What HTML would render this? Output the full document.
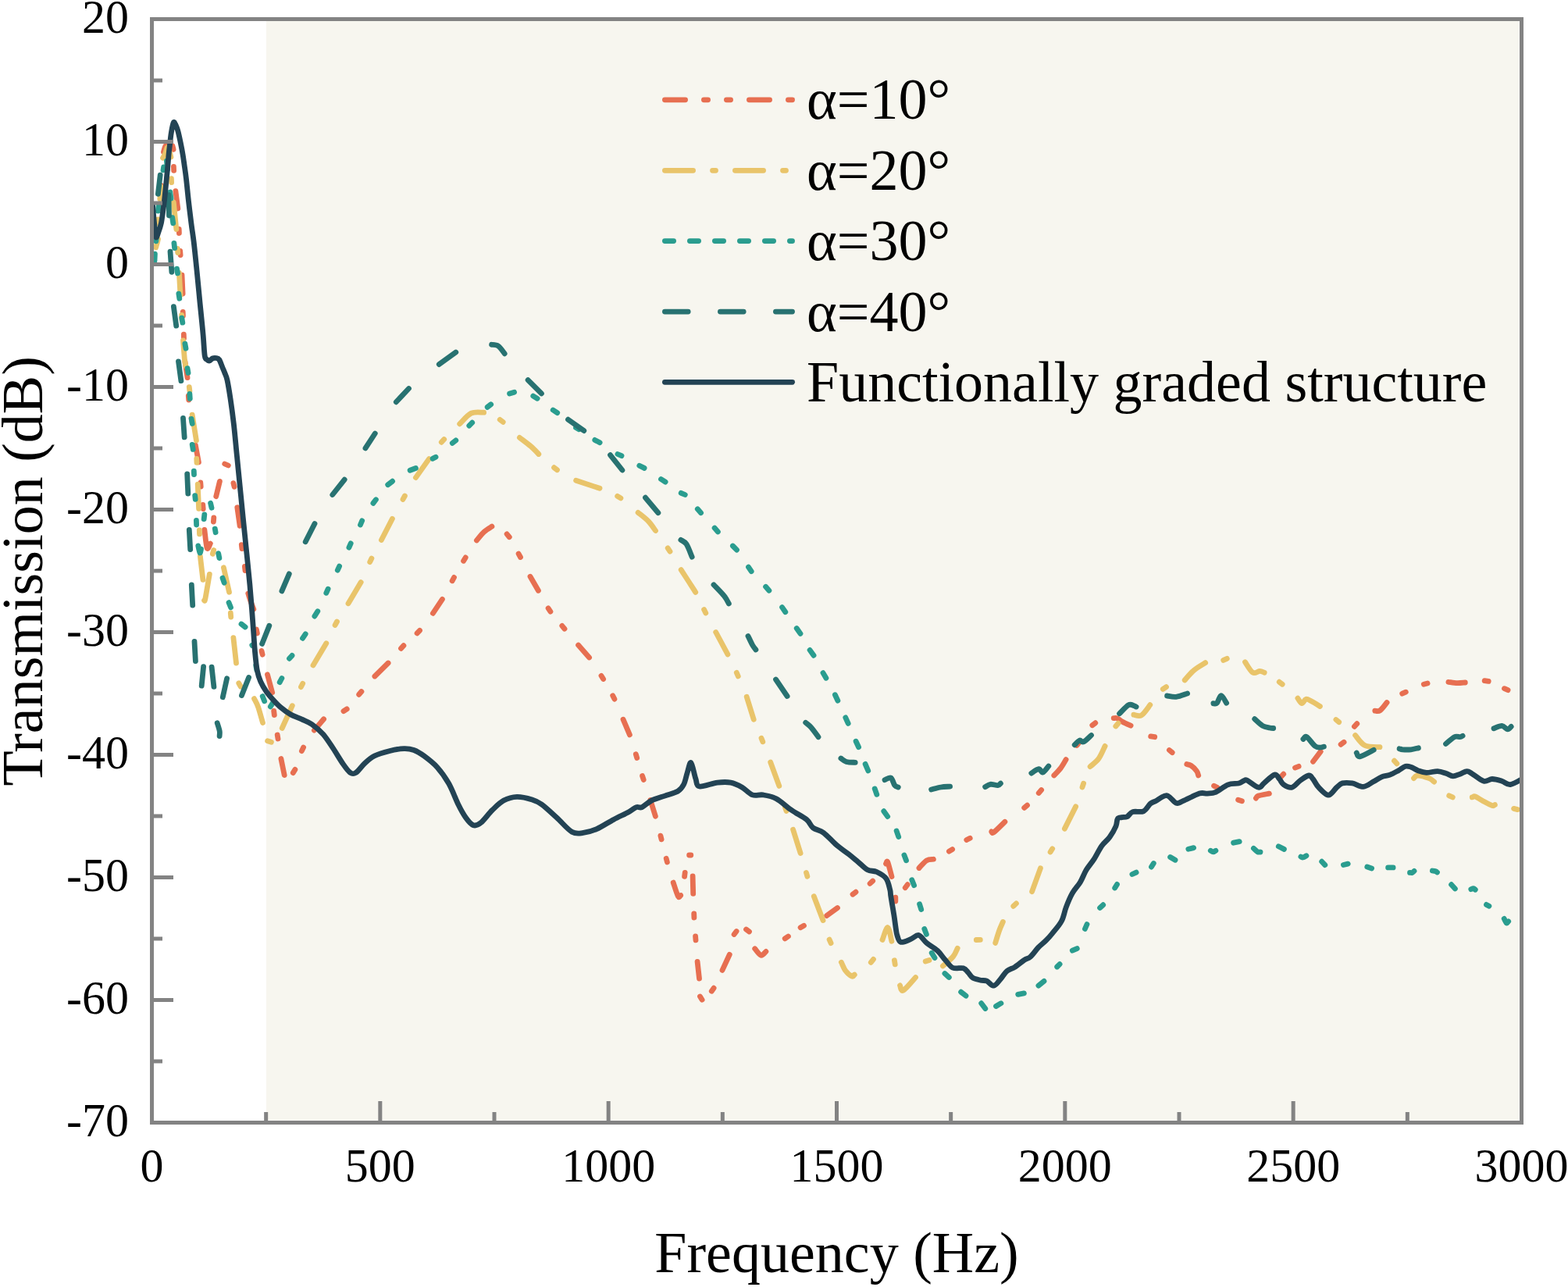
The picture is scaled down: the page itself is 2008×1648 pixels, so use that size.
<!DOCTYPE html>
<html><head><meta charset="utf-8"><title>Transmission vs Frequency</title>
<style>html,body{margin:0;padding:0;background:#fff;width:2008px;height:1648px;overflow:hidden}svg{display:block}</style>
</head><body>
<svg width="2008" height="1648" viewBox="0 0 2008 1648" font-family="'Liberation Serif','Times New Roman',serif" fill="#000">
<defs><clipPath id="clip"><rect x="194.5" y="24.5" width="1754.0" height="1413.0"/></clipPath></defs>
<rect x="0" y="0" width="2008" height="1648" fill="#fff"/>
<rect x="341" y="27" width="1604.5" height="1407.5" fill="#F7F6EF"/>
<g clip-path="url(#clip)"><path d="M203.3,267.5 L203.7,262.5M205.8,242.5 L206.2,237.5M209.5,194.6 C209.7,193.7 210.5,190.5 211.0,189.0 C211.5,187.5 212.4,186.2 212.7,185.7M220.9,186.6 L222.1,191.4M222.4,213.3 L222.6,218.3M224.9,244.7 L227.8,267.0M229.2,293.5 L229.4,298.5M230.7,321.5 L231.1,326.5M233.0,352.2 L234.1,376.0M234.2,399.4 L234.4,404.4M235.3,428.2 L235.5,433.2M236.9,462.8 L240.0,483.6M241.3,507.0 L241.7,512.0M245.1,535.5 L245.9,540.5M250.4,570.3 L254.4,591.9M256.8,618.0 L257.2,623.0M259.8,646.5 L260.2,651.5M261.9,678.4 C262.5,682.3 263.9,699.0 265.1,701.9 C266.3,704.8 268.6,697.0 269.3,696.0M273.4,668.0 L273.8,663.0M276.7,635.7 L281.4,616.4M287.7,594.0 L292.3,596.0M298.9,618.6 L300.1,623.4M303.8,649.8 L307.1,673.3M309.3,697.7 L309.9,702.7M313.4,725.5 L314.0,730.5M317.8,759.9 C318.3,761.6 319.8,766.6 321.0,770.0 C322.2,773.4 324.1,778.4 324.8,780.1M328.4,806.0 L329.4,811.0M335.0,833.4 L336.2,838.2M342.5,863.8 L348.7,886.8M350.7,910.5 L351.3,915.5M355.2,941.0 L356.0,946.0M359.9,971.5 L364.2,992.6M375.3,989.6 L377.9,985.4M386.4,961.6 L388.6,957.0M402.4,935.1 L414.6,920.8M440.0,910.7 L444.2,907.9M459.7,889.3 L462.9,885.5M479.9,866.0 L497.1,849.0M513.5,830.3 L516.9,826.7M534.1,810.9 L537.5,807.3M554.4,785.3 L566.4,767.4M579.1,743.8 L581.5,739.4M593.6,718.3 L596.2,713.9M610.4,691.9 C612.0,690.1 616.8,683.9 620.0,681.0 C623.2,678.1 628.2,675.3 629.9,674.2M649.1,683.9 L652.3,687.7M664.1,709.1 L666.5,713.5M679.0,738.3 L689.4,756.2M702.1,778.9 L704.9,783.1M719.8,801.4 L723.0,805.2M740.6,826.1 L754.6,841.9M770.0,865.3 L772.6,869.5M784.7,890.7 L786.9,895.1M798.0,921.2 L806.4,940.9M814.3,965.7 L815.7,970.5M822.6,993.6 L824.2,998.4M832.9,1024.5 L839.4,1045.2M845.9,1070.1 L847.1,1074.9M853.2,1099.2 L854.4,1104.0M862.2,1130.1 C863.2,1133.0 866.8,1145.0 868.4,1147.7 C870.0,1150.4 871.1,1146.6 871.7,1146.4M876.6,1122.3 L877.2,1117.3M882.6,1095.0 L884.8,1095.0M887.1,1122.0 L887.7,1144.4M888.7,1170.0 L888.9,1175.0M890.6,1198.9 L891.0,1203.9M893.1,1231.5 L895.5,1253.0M896.5,1276.0 L899.1,1280.2M911.3,1269.2 L914.1,1265.2M925.0,1242.4 L934.3,1222.3M940.1,1196.5 L943.1,1192.5M955.5,1190.0 L959.5,1193.0M966.7,1214.8 C968.0,1216.2 972.1,1222.7 974.5,1223.3 C976.9,1223.9 979.8,1219.2 980.9,1218.4M1005.2,1201.8 L1009.4,1199.0M1025.1,1187.7 L1029.5,1185.3M1058.7,1172.6 L1072.5,1162.5M1092.0,1145.2 L1096.0,1142.2M1114.1,1131.4 L1117.7,1128.0M1134.6,1106.0 C1135.0,1105.6 1135.6,1101.0 1136.8,1103.8 C1138.0,1106.6 1141.1,1119.5 1142.0,1122.6M1146.8,1149.1 L1146.8,1154.1M1159.2,1136.7 L1162.2,1132.7M1177.0,1111.5 C1178.6,1109.9 1183.5,1103.7 1186.6,1101.8 C1189.7,1099.9 1194.0,1100.6 1195.4,1100.3M1215.4,1090.2 L1219.6,1087.6M1237.8,1075.5 L1242.2,1073.3M1269.8,1064.8 C1270.3,1065.0 1269.9,1067.9 1272.7,1065.8 C1275.5,1063.7 1284.5,1054.6 1286.9,1052.3M1311.7,1034.3 L1315.5,1031.1M1330.2,1015.4 L1333.6,1011.6M1349.8,992.9 C1351.2,991.4 1355.5,987.3 1358.1,983.9 C1360.7,980.5 1363.9,974.5 1365.1,972.6M1379.1,954.5 L1382.3,950.5M1398.8,928.7 L1402.8,925.7M1426.2,919.6 C1427.0,919.6 1429.2,919.1 1431.0,919.8 C1432.8,920.5 1434.1,922.4 1437.0,924.0 C1439.9,925.6 1446.3,928.4 1448.1,929.2M1473.7,942.9 L1478.7,943.7M1497.4,960.5 L1501.2,963.7M1519.8,978.6 C1520.7,978.9 1523.3,979.0 1525.4,980.4 C1527.5,981.8 1530.8,985.2 1532.4,987.3 C1534.0,989.4 1534.3,992.1 1534.7,993.0M1554.6,1006.2 L1559.0,1008.6M1585.6,1024.2 L1590.4,1025.8M1608.4,1022.1 C1608.9,1021.6 1608.7,1020.0 1611.5,1019.0 C1614.3,1018.0 1623.1,1016.6 1625.4,1016.1M1640.3,994.8 L1643.7,991.2M1658.5,983.1 L1663.1,981.3M1681.5,975.2 L1691.2,962.4M1717.1,953.3 L1721.1,950.3M1734.4,930.3 L1737.8,926.7M1760.8,910.2 C1761.9,910.1 1764.9,911.4 1767.5,909.6 C1770.1,907.8 1774.7,901.2 1776.1,899.5M1795.7,888.2 L1800.3,886.2M1823.3,876.2 L1828.1,875.0M1854.9,873.3 C1856.7,873.5 1862.5,874.6 1866.1,874.7 C1869.7,874.8 1874.6,874.1 1876.3,874.0M1901.2,871.6 L1906.2,872.4M1926.5,881.7 L1931.1,883.7" fill="none" stroke="#E76F51" stroke-width="6.8" stroke-linecap="round" stroke-linejoin="round"/><path d="M199.7,316.9 C199.9,315.9 200.8,312.8 201.3,311.0 C201.8,309.2 202.3,306.9 202.5,306.1M201.8,286.0 L202.4,281.0M204.8,254.8 L206.0,239.2M208.6,202.2 C209.1,201.3 210.4,199.3 211.5,197.0 C212.6,194.7 213.8,187.8 215.0,188.5 C216.2,189.2 218.2,199.0 218.9,201.1M219.4,228.6 L219.6,233.6M222.3,259.2 L225.8,293.5M227.3,318.5 L227.7,323.5M229.4,349.4 L231.0,378.0M232.6,403.5 L232.8,408.5M234.5,436.0 C234.9,440.0 235.8,454.5 236.4,460.0 C237.0,465.5 237.7,467.7 238.0,469.2M242.3,495.6 L242.9,500.6M246.2,531.2 L251.4,564.0M251.8,587.4 L252.0,592.4M253.2,620.2 L254.6,651.4M255.3,678.8 L255.5,683.8M256.4,712.4 L259.9,742.4M261.6,768.8 C261.9,768.3 261.9,771.6 263.0,766.0 C264.1,760.4 267.4,740.5 268.3,735.4M272.3,709.2 L273.7,704.4M286.4,726.8 L293.5,758.3M295.3,785.0 L295.7,790.0M298.9,816.6 L302.5,849.0M305.8,874.8 L308.2,879.2M325.5,894.6 C326.3,896.4 328.9,900.4 330.7,905.6 C332.5,910.8 335.5,922.3 336.5,925.6M342.6,948.8 L347.4,950.2M361.2,932.5 L374.3,903.7M385.5,879.6 L387.7,875.2M401.0,851.9 L417.8,823.7M429.1,800.4 L431.5,796.0M446.0,772.8 L462.2,745.6M473.7,719.6 L475.9,715.0M488.4,691.5 L502.4,664.3M516.0,639.4 L518.4,635.0M532.4,611.6 L549.4,587.6M565.3,566.3 L568.7,562.5M588.7,542.8 C591.2,540.6 598.3,531.6 603.4,529.2 C608.5,526.8 616.9,528.4 619.6,528.2M640.2,537.4 L644.2,540.4M665.4,560.3 C667.8,562.2 675.9,568.2 680.0,571.7 C684.1,575.2 688.2,579.9 689.8,581.5M709.5,598.7 L713.5,601.7M737.6,615.2 L768.0,625.3M790.7,635.3 L794.9,637.9M817.1,656.3 C819.4,658.2 826.8,663.7 830.5,667.6 C834.2,671.5 838.0,677.6 839.5,679.5M855.2,701.9 L858.0,706.1M872.2,729.7 C873.8,732.1 878.4,739.2 881.5,744.0 C884.6,748.8 889.1,755.9 890.7,758.3M901.6,780.6 L903.8,785.0M916.7,809.5 L931.9,837.9M943.3,861.4 L945.3,866.0M956.2,892.3 L965.2,921.3M975.0,945.2 L976.8,949.8M986.7,976.0 L997.8,1006.4M1005.4,1033.6 L1007.0,1038.4M1015.6,1062.2 L1025.1,1092.6M1032.5,1117.4 L1033.9,1122.2M1042.3,1147.7 L1054.0,1178.5M1062.1,1203.1 L1064.1,1207.7M1077.4,1232.2 C1078.4,1234.0 1080.7,1240.3 1083.0,1243.3 C1085.3,1246.3 1089.1,1249.4 1091.0,1250.2 C1092.9,1251.0 1093.8,1248.4 1094.3,1248.0M1115.3,1232.3 L1118.5,1228.3M1130.0,1203.5 C1131.2,1200.8 1134.8,1187.2 1136.8,1187.5 C1138.8,1187.8 1141.1,1202.4 1141.9,1205.3M1145.4,1229.8 L1146.2,1234.8M1152.6,1261.9 C1153.2,1262.9 1153.4,1269.9 1156.7,1268.2 C1160.0,1266.5 1169.9,1254.3 1172.5,1251.5M1185.2,1231.1 L1190.0,1229.5M1207.4,1236.9 C1209.6,1234.9 1217.4,1228.8 1220.5,1225.0 C1223.6,1221.2 1225.3,1216.0 1226.2,1214.2M1250.3,1203.5 L1255.3,1203.3M1274.7,1207.4 C1275.5,1204.7 1278.1,1196.0 1279.7,1191.5 C1281.3,1187.0 1283.6,1182.3 1284.4,1180.4M1297.8,1160.3 L1301.4,1156.9M1321.6,1141.7 L1332.4,1111.8M1345.1,1091.0 L1347.7,1086.8M1363.4,1061.1 L1377.6,1032.9M1386.0,1008.0 L1387.6,1003.2M1396.1,981.6 C1397.9,979.9 1403.7,976.0 1406.9,971.6 C1410.1,967.2 1413.7,958.1 1415.1,955.4M1428.8,930.0 L1432.0,926.2M1451.9,915.2 C1453.5,915.3 1458.3,918.0 1461.8,915.9 C1465.3,913.8 1471.0,904.9 1472.8,902.7M1489.3,882.4 L1493.5,879.6M1517.2,870.9 C1519.1,868.8 1524.5,862.0 1528.9,858.3 C1533.3,854.6 1541.2,850.3 1543.6,848.7M1566.7,845.4 L1571.3,843.4M1594.5,847.8 C1596.1,850.0 1601.2,859.3 1604.3,861.2 C1607.4,863.1 1610.8,859.4 1613.3,859.4 C1615.8,859.4 1618.2,860.9 1619.2,861.2M1638.2,873.2 L1642.2,876.2M1661.9,894.2 C1662.8,895.3 1665.3,900.5 1667.1,900.7 C1668.9,900.9 1670.4,895.8 1672.5,895.3 C1674.6,894.8 1676.6,896.5 1679.6,898.0 C1682.6,899.5 1688.6,903.4 1690.4,904.5M1710.9,921.5 L1714.7,924.7M1735.6,941.5 C1737.6,943.7 1742.6,952.0 1747.8,954.5 C1753.0,957.0 1763.8,956.4 1767.0,956.7M1785.5,974.2 L1788.9,977.8M1810.5,996.6 C1811.4,996.0 1812.6,993.0 1815.9,993.0 C1819.2,993.0 1826.8,995.3 1830.2,996.6 C1833.6,997.9 1835.5,1000.3 1836.6,1001.1M1855.7,1018.9 L1860.3,1020.9M1885.3,1020.9 C1886.0,1020.8 1887.2,1019.2 1889.4,1019.9 C1891.6,1020.6 1894.8,1023.4 1898.4,1025.3 C1902.0,1027.2 1908.2,1030.6 1910.9,1031.5 C1913.6,1032.4 1913.8,1030.7 1914.4,1030.5M1938.6,1035.4 L1943.4,1036.6" fill="none" stroke="#E9C46A" stroke-width="6.8" stroke-linecap="round" stroke-linejoin="round"/><path d="M198.0,333.8 L198.4,325.2M199.8,308.8 L200.7,301.2M202.4,270.1 L203.1,264.2M209.0,217.8 L209.6,214.0M213.4,206.2 L214.6,216.8M217.8,246.0 L219.0,254.1M220.7,278.7 L221.7,285.8M222.9,311.3 L223.6,317.7M226.5,344.2 L227.5,349.8M228.9,376.2 L229.8,382.2M232.8,407.1 L233.8,413.1M236.9,440.1 L238.0,446.1M240.0,471.7 L241.0,477.4M242.9,504.4 L243.3,510.4M245.1,536.4 L246.2,542.4M246.2,569.4 L247.2,575.4M248.3,603.2 L248.5,607.7M249.7,634.7 L250.2,639.3M251.4,666.3 L251.6,672.0M253.8,698.9 C254.1,700.4 255.4,707.3 256.0,708.0 C256.6,708.7 257.3,703.9 257.5,703.1M261.2,664.7 L261.8,659.0M269.6,644.3 L271.0,650.3M275.3,677.2 L276.1,681.7M279.7,708.6 L280.9,714.6M285.0,740.1 L287.1,746.2M293.0,771.6 L295.5,777.8M309.0,799.0 L314.1,803.0M322.8,826.1 L323.0,826.6M327.7,852.1 L328.8,857.9M336.2,891.6 L338.6,897.8M346.4,904.8 L350.3,898.6M358.2,873.6 L360.9,868.5M370.5,843.3 L374.0,839.4M387.5,817.3 L391.2,811.8M402.9,789.1 L406.8,782.7M417.8,759.3 L420.1,754.2M432.3,730.2 L434.6,725.1M446.9,701.1 L449.2,695.9M461.5,672.0 L463.7,666.8M477.9,644.4 L481.4,639.8M496.7,620.7 L502.6,616.2M525.1,602.2 L532.4,599.5M554.1,587.3 L558.0,585.2M579.3,567.4 L583.8,563.9M600.8,545.1 L604.7,541.2M624.2,521.3 L628.7,517.8M652.6,504.1 L658.6,502.2M682.8,507.1 L688.1,510.3M708.2,525.0 L713.7,528.6M737.5,547.6 L741.4,549.7M761.8,563.4 L768.1,566.7M790.9,581.5 L796.0,583.7M818.8,596.2 L825.1,599.4M846.5,613.5 L852.1,617.2M872.2,631.3 L877.3,633.5M893.3,651.8 L897.6,656.7M915.1,676.0 L919.4,680.9M938.4,699.0 L943.5,704.1M958.5,726.1 L962.2,731.6M980.6,751.3 L984.9,756.2M1001.6,777.6 L1005.8,783.7M1020.2,804.5 L1025.0,811.4M1037.1,832.4 L1042.0,839.3M1054.0,861.6 L1057.9,868.3M1069.4,889.7 L1072.9,897.2M1082.8,918.8 L1086.2,926.4M1096.1,949.2 L1099.6,956.7M1108.1,978.4 L1111.8,987.0M1120.2,1009.9 L1122.8,1017.3M1131.8,1038.7 L1136.7,1045.6M1148.1,1064.0 L1150.7,1071.5M1157.9,1094.9 L1160.5,1101.8M1167.8,1126.7 L1170.6,1133.7M1177.6,1157.7 L1179.7,1164.5M1183.8,1189.5 L1186.4,1196.4M1193.2,1220.2 L1197.0,1226.5M1209.9,1246.5 L1215.3,1251.5M1230.6,1270.2 L1237.0,1275.1M1256.7,1284.7 L1261.8,1291.5M1275.5,1288.5 L1281.9,1284.7M1303.7,1273.4 L1311.4,1271.9M1329.9,1262.1 L1337.0,1256.3M1353.7,1238.0 L1357.1,1234.6M1373.3,1217.2 L1379.3,1214.6M1389.4,1189.5 L1392.0,1183.5M1408.6,1162.5 L1412.7,1158.7M1427.7,1137.0 L1430.5,1132.4M1449.9,1119.5 L1455.1,1117.1M1474.5,1110.1 L1477.3,1105.5M1498.6,1097.5 L1505.0,1101.2M1521.8,1087.2 L1528.6,1085.6M1550.3,1089.2 C1550.8,1089.5 1552.5,1090.9 1553.6,1090.9 C1554.7,1090.9 1556.3,1089.5 1556.9,1089.2M1579.6,1079.2 L1587.2,1077.6M1605.4,1086.3 C1606.2,1087.0 1609.0,1089.9 1610.4,1090.7 C1611.8,1091.5 1613.4,1090.9 1614.0,1091.0M1637.3,1083.8 L1644.4,1087.4M1665.9,1097.0 C1666.3,1097.2 1667.2,1098.2 1668.4,1098.0 C1669.6,1097.8 1672.2,1096.2 1672.9,1095.8M1692.7,1103.2 L1696.8,1107.6M1720.4,1107.5 L1726.2,1106.1M1750.8,1110.0 L1756.6,1111.9M1777.6,1110.9 L1784.1,1110.9M1805.5,1117.4 C1806.0,1117.4 1807.6,1117.7 1808.5,1117.4 C1809.4,1117.1 1810.6,1115.7 1811.0,1115.4M1834.4,1115.0 C1835.0,1115.1 1837.0,1115.2 1838.0,1115.5 C1839.0,1115.8 1840.1,1116.8 1840.5,1117.0M1858.6,1132.7 L1863.4,1138.0M1883.8,1138.7 C1884.3,1138.5 1885.9,1137.6 1886.8,1137.7 C1887.7,1137.8 1888.9,1138.9 1889.3,1139.2M1903.5,1158.4 L1906.9,1160.2M1926.2,1176.4 C1926.7,1177.3 1928.3,1181.3 1929.2,1181.9 C1930.1,1182.5 1931.3,1180.2 1931.7,1179.9" fill="none" stroke="#2A9D8F" stroke-width="6.8" stroke-linecap="round" stroke-linejoin="round"/><path d="M202.4,248.3 L205.2,224.2M215.9,249.6 L216.5,276.0M218.0,322.2 L219.9,348.3M222.4,392.7 L225.7,417.2M228.5,462.8 L231.9,487.7M234.5,535.4 L236.2,559.9M239.7,606.8 L240.8,632.0M242.3,678.4 L243.7,703.6M245.3,748.8 L246.7,775.1M249.0,821.5 L250.4,846.6M258.2,878.2 L260.6,853.6M271.1,854.2 L273.9,879.4M278.2,925.7 C278.7,927.4 280.7,933.2 281.2,936.0 C281.7,938.8 281.1,941.4 281.1,942.5M285.3,892.8 L290.6,868.7M309.5,890.5 L318.6,867.4M335.6,824.4 L344.8,801.2M360.9,756.9 L370.3,734.8M391.2,693.8 L403.0,670.5M425.8,633.5 L441.2,614.2M468.0,573.9 L480.3,555.0M507.3,514.8 L523.5,497.5M562.3,466.6 L583.8,451.0M629.6,441.3 C631.0,441.5 635.2,441.1 638.0,443.0 C640.8,444.9 644.9,451.1 646.2,452.8M676.1,486.6 L693.4,503.9M727.5,537.2 L747.8,551.6M781.5,582.7 L796.9,602.0M826.5,637.2 L842.9,656.7M871.9,691.3 C873.0,692.2 876.6,693.1 879.0,696.7 C881.4,700.3 885.0,710.4 886.2,713.2M914.0,748.8 C916.3,751.3 924.4,759.4 927.6,763.4 C930.8,767.4 932.3,771.3 933.3,772.9M958.0,814.5 C959.0,816.4 962.0,823.2 963.7,826.1 C965.4,829.0 967.2,831.0 967.9,832.0M993.5,870.0 L1008.1,891.5M1031.7,925.3 C1032.9,926.4 1036.3,928.6 1039.0,931.7 C1041.7,934.8 1046.5,941.7 1048.0,943.7M1076.9,971.0 C1078.1,971.7 1080.8,974.5 1083.9,975.4 C1087.0,976.3 1093.3,976.2 1095.2,976.3M1133.0,998.7 C1134.3,998.2 1138.8,994.8 1140.9,996.0 C1143.0,997.2 1144.2,1003.7 1145.8,1005.7 C1147.4,1007.7 1149.5,1007.6 1150.2,1008.0M1192.6,1011.0 C1194.7,1010.5 1201.0,1008.7 1205.0,1008.0 C1209.0,1007.3 1214.7,1007.3 1216.6,1007.1M1261.6,1007.7 C1262.7,1007.2 1265.6,1004.7 1268.3,1004.3 C1271.0,1003.9 1275.7,1005.8 1277.9,1005.6 C1280.1,1005.4 1280.8,1003.6 1281.4,1003.1M1320.8,990.1 C1322.3,989.2 1327.8,984.9 1330.2,984.7 C1332.6,984.5 1333.3,989.7 1335.4,989.1 C1337.5,988.5 1341.6,982.3 1342.8,981.0M1376.2,953.8 C1377.2,952.9 1380.6,948.8 1382.5,948.1 C1384.4,947.4 1385.2,951.0 1387.7,949.9 C1390.2,948.8 1395.8,942.9 1397.5,941.5M1433.6,913.7 C1435.6,911.9 1442.1,904.5 1445.2,902.8 C1448.3,901.1 1450.6,903.3 1452.2,903.7 C1453.8,904.1 1454.6,904.9 1455.1,905.1M1494.6,891.0 C1496.5,891.2 1501.9,892.8 1506.2,892.3 C1510.5,891.8 1518.2,888.7 1520.6,888.0M1553.9,900.7 C1554.6,900.6 1556.8,901.9 1558.5,900.2 C1560.2,898.5 1561.8,890.6 1563.8,890.6 C1565.8,890.6 1569.5,898.6 1570.6,900.2M1606.7,920.7 C1608.4,922.1 1613.7,927.5 1616.9,929.4 C1620.1,931.3 1623.6,931.5 1625.9,932.0 C1628.2,932.5 1629.9,932.5 1630.7,932.5M1668.9,946.5 C1669.7,946.0 1670.9,942.2 1673.4,943.7 C1675.9,945.2 1681.3,953.2 1684.1,955.4 C1686.9,957.6 1688.5,957.0 1690.4,957.1 C1692.3,957.2 1694.5,956.2 1695.4,956.1M1737.3,964.0 C1738.0,964.8 1737.8,969.4 1741.5,968.8 C1745.2,968.2 1756.3,961.7 1759.2,960.3M1792.1,958.8 C1792.8,958.9 1793.7,959.6 1796.2,959.8 C1798.7,960.0 1803.5,960.1 1806.9,959.8 C1810.3,959.5 1814.8,958.1 1816.4,957.8M1851.5,952.5 C1853.3,951.0 1859.5,945.2 1862.5,943.7 C1865.5,942.2 1867.9,943.9 1869.7,943.7 C1871.5,943.5 1872.5,942.5 1873.1,942.2M1913.0,932.8 C1914.8,932.2 1920.5,929.2 1923.4,929.4 C1926.3,929.6 1928.6,933.6 1930.6,933.8 C1932.6,934.0 1934.5,931.0 1935.2,930.4" fill="none" stroke="#287271" stroke-width="6.8" stroke-linecap="round" stroke-linejoin="round"/><path d="M195.5,262.0 C195.8,265.8 196.8,278.1 197.5,285.0 C198.2,291.9 198.9,301.5 199.8,303.5 C200.7,305.5 201.9,299.9 203.0,297.0 C204.1,294.1 205.5,290.1 206.4,285.9 C207.3,281.7 207.8,276.9 208.5,272.0 C209.2,267.1 209.9,261.8 210.5,256.8 C211.1,251.8 211.5,246.8 212.0,242.0 C212.5,237.2 212.9,232.5 213.4,227.7 C213.9,222.9 214.4,217.9 214.8,213.0 C215.2,208.1 215.6,203.2 216.0,198.5 C216.4,193.8 217.0,189.4 217.5,185.0 C218.0,180.6 218.4,175.8 219.0,172.0 C219.6,168.2 220.2,164.6 220.8,162.0 C221.4,159.4 221.9,157.1 222.5,156.5 C223.1,155.9 223.6,157.3 224.3,158.5 C225.0,159.7 225.8,161.7 226.5,163.5 C227.2,165.3 227.5,166.2 228.3,169.4 C229.1,172.7 230.3,178.2 231.3,183.0 C232.3,187.8 233.4,193.5 234.2,198.5 C235.0,203.5 235.6,208.1 236.3,213.0 C237.0,217.9 237.5,220.4 238.3,227.7 C239.2,235.0 240.3,247.1 241.4,256.8 C242.5,266.5 243.8,277.0 244.9,285.9 C246.0,294.8 247.0,300.0 248.2,310.0 C249.4,320.0 250.7,333.1 252.0,346.0 C253.3,358.9 254.7,373.6 256.0,387.4 C257.4,401.2 259.1,417.3 260.1,428.7 C261.1,440.1 261.4,450.2 262.2,455.5 C263.0,460.8 264.0,459.4 265.0,460.5 C266.0,461.6 267.2,462.2 268.4,462.0 C269.6,461.8 270.6,459.6 272.0,459.0 C273.4,458.4 275.2,458.2 276.6,458.5 C278.1,458.8 279.3,458.5 280.7,460.5 C282.1,462.5 283.6,467.4 284.8,470.3 C286.0,473.2 287.0,475.2 288.0,478.0 C289.0,480.8 289.8,481.2 291.0,486.8 C292.2,492.4 293.8,502.2 295.2,511.5 C296.6,520.8 297.9,530.5 299.3,542.5 C300.7,554.5 302.0,570.0 303.4,583.7 C304.8,597.5 306.1,611.2 307.5,625.0 C308.9,638.8 310.2,652.5 311.6,666.2 C313.0,679.9 314.4,693.6 315.8,707.4 C317.2,721.1 318.8,736.6 319.9,748.7 C321.0,760.8 321.7,770.3 322.5,780.0 C323.3,789.7 323.8,797.9 324.5,807.0 C325.2,816.1 325.7,826.1 326.5,834.6 C327.3,843.1 328.1,851.9 329.3,858.3 C330.5,864.7 331.8,868.2 333.8,872.8 C335.8,877.3 338.4,881.6 341.1,885.6 C343.8,889.6 347.2,893.2 350.2,896.5 C353.2,899.8 355.7,902.6 359.3,905.6 C362.9,908.6 367.4,912.1 372.0,914.7 C376.6,917.3 382.0,919.0 386.6,921.1 C391.2,923.2 394.8,924.3 399.4,927.5 C403.9,930.7 409.3,935.1 413.9,940.2 C418.4,945.4 422.4,952.0 426.7,958.4 C430.9,964.8 435.8,973.2 439.4,978.4 C443.0,983.6 445.8,987.6 448.5,989.4 C451.2,991.2 452.7,991.4 455.8,989.4 C458.9,987.4 463.1,981.1 467.0,977.5 C470.9,973.9 474.0,970.7 479.4,968.0 C484.8,965.3 493.0,963.1 499.3,961.5 C505.6,959.9 512.1,958.8 517.2,958.6 C522.3,958.4 525.7,958.9 530.0,960.5 C534.3,962.1 538.1,964.4 543.1,968.1 C548.1,971.8 554.8,976.8 560.1,982.7 C565.4,988.6 570.2,995.4 574.7,1003.3 C579.2,1011.2 583.2,1022.7 586.8,1030.0 C590.4,1037.3 593.3,1042.5 596.5,1047.0 C599.7,1051.5 603.0,1055.6 606.2,1056.7 C609.4,1057.8 611.9,1056.6 615.9,1053.4 C619.9,1050.2 625.6,1042.0 630.5,1037.3 C635.4,1032.6 639.8,1027.9 645.0,1025.1 C650.2,1022.3 655.9,1020.5 662.0,1020.3 C668.1,1020.1 676.2,1022.3 681.5,1023.9 C686.8,1025.5 688.4,1026.2 693.6,1030.0 C698.9,1033.8 706.5,1041.1 713.0,1047.0 C719.5,1052.9 726.7,1062.0 732.4,1065.2 C738.1,1068.4 741.7,1067.0 747.0,1066.4 C752.3,1065.8 757.5,1064.4 764.0,1061.6 C770.5,1058.8 778.9,1053.1 785.8,1049.4 C792.7,1045.8 800.4,1042.3 805.2,1039.7 C810.1,1037.1 812.1,1034.6 814.9,1033.6 C817.7,1032.6 819.0,1035.0 822.2,1033.6 C825.5,1032.2 829.5,1027.5 834.4,1025.1 C839.3,1022.7 845.8,1021.1 851.4,1019.1 C857.0,1017.1 864.3,1015.4 868.3,1013.0 C872.3,1010.6 873.6,1008.3 875.6,1004.5 C877.6,1000.7 878.5,994.6 880.0,990.0 C881.5,985.4 883.1,975.4 884.9,976.6 C886.7,977.8 889.1,992.1 890.9,997.2 C892.7,1002.3 891.1,1006.2 895.8,1007.0 C900.4,1007.8 912.1,1002.9 918.8,1002.1 C925.5,1001.3 930.5,1001.1 935.8,1002.1 C941.1,1003.1 945.8,1005.6 950.4,1008.2 C955.0,1010.8 959.2,1016.3 963.7,1017.9 C968.2,1019.5 972.0,1017.1 977.1,1017.9 C982.2,1018.7 988.0,1019.5 994.1,1022.7 C1000.2,1025.9 1007.0,1032.8 1013.5,1037.3 C1020.0,1041.8 1028.3,1045.6 1032.9,1049.4 C1037.5,1053.2 1037.6,1057.2 1041.2,1060.0 C1044.8,1062.8 1049.8,1062.8 1054.8,1066.4 C1059.8,1070.1 1065.7,1077.3 1071.1,1081.9 C1076.5,1086.5 1082.3,1090.2 1087.0,1093.9 C1091.7,1097.6 1095.0,1100.5 1099.0,1103.8 C1103.0,1107.1 1106.9,1111.7 1110.9,1113.8 C1114.9,1115.9 1118.8,1114.6 1122.8,1116.5 C1126.8,1118.4 1132.0,1121.2 1134.8,1125.0 C1137.6,1128.8 1138.7,1135.4 1139.7,1139.2 C1140.7,1143.0 1140.0,1142.2 1140.8,1147.6 C1141.6,1153.0 1143.7,1164.5 1144.8,1171.6 C1145.9,1178.7 1146.7,1185.6 1147.4,1190.0 C1148.1,1194.4 1148.0,1195.3 1149.0,1198.0 C1150.0,1200.7 1150.8,1205.7 1153.7,1206.4 C1156.7,1207.1 1162.9,1203.9 1166.7,1202.4 C1170.5,1200.9 1173.3,1196.7 1176.6,1197.5 C1179.9,1198.3 1182.6,1204.1 1186.6,1207.4 C1190.6,1210.7 1196.6,1213.8 1200.6,1217.4 C1204.6,1221.1 1207.2,1225.7 1210.5,1229.3 C1213.8,1232.9 1216.4,1237.5 1220.2,1239.3 C1224.0,1241.0 1230.3,1238.8 1233.6,1239.8 C1236.9,1240.8 1238.0,1243.4 1240.0,1245.5 C1242.0,1247.6 1243.2,1250.6 1245.8,1252.2 C1248.4,1253.8 1252.8,1254.5 1255.8,1255.2 C1258.8,1255.9 1260.9,1255.0 1263.7,1256.2 C1266.5,1257.4 1269.7,1262.7 1272.7,1262.2 C1275.7,1261.7 1278.9,1256.4 1281.7,1253.2 C1284.5,1250.0 1286.6,1245.8 1289.6,1243.3 C1292.6,1240.8 1295.9,1240.6 1299.6,1238.3 C1303.3,1236.0 1308.3,1231.5 1311.6,1229.3 C1314.9,1227.1 1316.5,1227.9 1319.5,1225.3 C1322.5,1222.7 1326.2,1216.9 1329.5,1213.4 C1332.8,1209.9 1336.4,1207.4 1339.4,1204.4 C1342.4,1201.4 1344.1,1199.7 1347.4,1195.5 C1350.7,1191.3 1356.4,1185.2 1359.4,1179.5 C1362.4,1173.8 1363.0,1167.6 1365.3,1161.6 C1367.6,1155.6 1370.3,1149.0 1373.3,1143.7 C1376.3,1138.4 1380.3,1134.7 1383.3,1129.7 C1386.3,1124.7 1388.2,1118.8 1391.2,1113.8 C1394.2,1108.8 1397.9,1104.9 1401.2,1099.8 C1404.5,1094.7 1407.7,1087.6 1411.0,1083.0 C1414.3,1078.4 1418.0,1076.2 1421.0,1072.0 C1424.0,1067.8 1427.3,1062.0 1429.0,1058.0 C1430.7,1054.0 1430.0,1050.2 1431.3,1048.3 C1432.5,1046.4 1434.5,1047.0 1436.5,1046.6 C1438.5,1046.2 1441.2,1046.9 1443.5,1045.7 C1445.8,1044.5 1447.0,1040.8 1450.5,1039.6 C1454.0,1038.4 1460.6,1040.5 1464.4,1038.8 C1468.2,1037.1 1470.5,1031.4 1473.1,1029.2 C1475.7,1027.0 1476.5,1027.5 1480.0,1025.7 C1483.5,1024.0 1489.6,1018.3 1494.0,1018.7 C1498.4,1019.1 1502.7,1027.1 1506.2,1028.3 C1509.7,1029.5 1510.0,1027.7 1514.9,1025.7 C1519.9,1023.7 1530.7,1017.7 1535.9,1016.1 C1541.1,1014.5 1542.8,1016.4 1546.3,1016.1 C1549.8,1015.8 1552.4,1016.3 1556.8,1014.4 C1561.2,1012.5 1567.6,1006.7 1572.5,1004.8 C1577.4,1002.9 1582.9,1003.9 1586.4,1003.0 C1589.9,1002.1 1591.6,1000.1 1593.4,999.5 C1595.2,998.9 1594.2,997.8 1597.2,999.3 C1600.2,1000.8 1607.9,1007.6 1611.5,1008.2 C1615.1,1008.8 1615.3,1005.6 1618.7,1002.9 C1622.1,1000.2 1628.8,993.0 1632.1,992.1 C1635.4,991.2 1636.5,995.4 1638.4,997.5 C1640.4,999.6 1641.1,1002.8 1643.8,1004.6 C1646.5,1006.4 1650.9,1009.1 1654.5,1008.2 C1658.1,1007.3 1661.7,1001.8 1665.3,999.3 C1668.9,996.8 1673.4,993.3 1676.1,993.0 C1678.8,992.7 1679.3,995.0 1681.4,997.5 C1683.5,1000.0 1685.3,1004.8 1688.6,1008.2 C1691.9,1011.6 1697.3,1018.1 1701.2,1018.1 C1705.1,1018.1 1708.9,1010.7 1711.9,1008.2 C1714.9,1005.7 1715.8,1003.8 1719.1,1002.9 C1722.4,1002.0 1727.1,1002.2 1731.6,1002.9 C1736.1,1003.6 1741.5,1007.6 1746.0,1007.3 C1750.5,1007.0 1754.6,1003.2 1758.5,1001.1 C1762.4,999.0 1765.7,996.3 1769.3,994.8 C1772.9,993.3 1776.4,993.5 1780.0,992.1 C1783.6,990.8 1787.5,988.5 1790.8,986.7 C1794.1,984.9 1797.1,982.0 1799.8,981.3 C1802.5,980.5 1804.2,981.3 1806.9,982.2 C1809.6,983.1 1812.6,985.5 1815.9,986.7 C1819.2,987.9 1822.4,989.2 1826.6,989.4 C1830.8,989.5 1836.8,987.5 1841.0,987.6 C1845.2,987.8 1848.4,989.2 1851.7,990.3 C1855.0,991.3 1857.7,993.8 1860.7,993.9 C1863.7,994.0 1866.7,992.2 1869.7,991.2 C1872.7,990.2 1875.9,987.6 1878.6,987.6 C1881.3,987.6 1882.2,989.1 1885.8,991.2 C1889.4,993.3 1895.9,999.2 1900.1,1000.2 C1904.3,1001.2 1907.0,997.5 1910.9,997.5 C1914.8,997.5 1919.5,999.0 1923.4,1000.2 C1927.3,1001.4 1929.8,1005.1 1934.2,1004.6 C1938.6,1004.1 1947.4,998.3 1950.0,997.0" fill="none" stroke="#234354" stroke-width="6.8" stroke-linejoin="round" stroke-linecap="round"/></g>
<rect x="194.5" y="24.5" width="1754.0" height="1413.0" fill="none" stroke="#838383" stroke-width="5"/>
<path d="M197,1359.00H208 M197,1280.50H222 M197,1202.00H208 M197,1123.50H222 M197,1045.00H208 M197,966.50H222 M197,888.00H208 M197,809.50H222 M197,731.00H208 M197,652.50H222 M197,574.00H208 M197,495.50H222 M197,417.00H208 M197,338.50H222 M197,260.00H208 M197,181.50H222 M197,103.00H208 M340.67,1435V1424 M486.83,1435V1410 M633.00,1435V1424 M779.17,1435V1410 M925.33,1435V1424 M1071.50,1435V1410 M1217.67,1435V1424 M1363.83,1435V1410 M1510.00,1435V1424 M1656.17,1435V1410 M1802.33,1435V1424" stroke="#838383" stroke-width="5" fill="none"/>
<g font-size="60"><text transform="translate(165,1455.3) scale(1,1.035)" text-anchor="end">-70</text><text transform="translate(165,1298.3) scale(1,1.035)" text-anchor="end">-60</text><text transform="translate(165,1141.3) scale(1,1.035)" text-anchor="end">-50</text><text transform="translate(165,984.3) scale(1,1.035)" text-anchor="end">-40</text><text transform="translate(165,827.3) scale(1,1.035)" text-anchor="end">-30</text><text transform="translate(165,670.3) scale(1,1.035)" text-anchor="end">-20</text><text transform="translate(165,513.3) scale(1,1.035)" text-anchor="end">-10</text><text transform="translate(165,356.3) scale(1,1.035)" text-anchor="end">0</text><text transform="translate(165,199.3) scale(1,1.035)" text-anchor="end">10</text><text transform="translate(165,42.3) scale(1,1.035)" text-anchor="end">20</text><text transform="translate(194.5,1513.4) scale(1,1.035)" text-anchor="middle">0</text><text transform="translate(486.8,1513.4) scale(1,1.035)" text-anchor="middle">500</text><text transform="translate(779.2,1513.4) scale(1,1.035)" text-anchor="middle">1000</text><text transform="translate(1071.5,1513.4) scale(1,1.035)" text-anchor="middle">1500</text><text transform="translate(1363.8,1513.4) scale(1,1.035)" text-anchor="middle">2000</text><text transform="translate(1656.2,1513.4) scale(1,1.035)" text-anchor="middle">2500</text><text transform="translate(1948.5,1513.4) scale(1,1.035)" text-anchor="middle">3000</text></g>
<text x="1071.5" y="1629" text-anchor="middle" font-size="74">Frequency (Hz)</text>
<text transform="translate(54.3,731.3) rotate(-90)" text-anchor="middle" font-size="74">Transmission (dB)</text>
<path d="M851.4,127.8 H1014.6" stroke="#E76F51" stroke-width="6.8" stroke-linecap="round" stroke-dasharray="26.2 23.8 5.2 23.8 5.2 23.8"/>
<text x="1033" y="152.2" font-size="74">α=10°</text>
<path d="M851.4,218.3 H1014.6" stroke="#E9C46A" stroke-width="6.8" stroke-linecap="round" stroke-dasharray="36.2 24.9 4 24.9"/>
<text x="1033" y="242.7" font-size="74">α=20°</text>
<path d="M851.4,308.6 H1014.6" stroke="#2A9D8F" stroke-width="6.8" stroke-linecap="round" stroke-dasharray="11.2 20.8"/>
<text x="1033" y="333.0" font-size="74">α=30°</text>
<path d="M851.4,399.1 H1014.6" stroke="#287271" stroke-width="6.8" stroke-linecap="round" stroke-dasharray="29.8 41.2"/>
<text x="1033" y="423.5" font-size="74">α=40°</text>
<path d="M851.4,489.3 H1014.6" stroke="#234354" stroke-width="6.8" stroke-linecap="round"/>
<text x="1033" y="513.7" font-size="74">Functionally graded structure</text>
</svg>
</body></html>
